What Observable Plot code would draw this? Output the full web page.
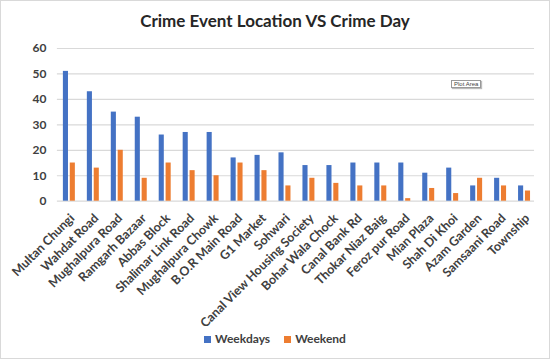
<!DOCTYPE html>
<html><head><meta charset="utf-8">
<script src="https://cdn.jsdelivr.net/npm/d3@7"></script>
<script src="https://cdn.jsdelivr.net/npm/@observablehq/plot@0.6"></script>
<style>
body{margin:0;background:#fff;}
#wrap{position:relative;width:548px;height:357px;border:1px solid #d9d9d9;font-family:Lato,"Open Sans",sans-serif;overflow:hidden;}
#title{position:absolute;top:9px;left:0;width:548px;text-align:center;font-size:17px;font-weight:700;color:#262626;}
#chart{position:absolute;top:34px;left:-1px;}
#legend{position:absolute;top:330px;left:0;width:548px;text-align:center;font-size:12px;font-weight:700;color:#404040;}
#legend span{display:inline-block;margin:0 7px;}
#legend i{display:inline-block;width:7px;height:7px;margin-right:4px;vertical-align:0px;}
#tip{position:absolute;left:450px;top:79px;font-size:6px;color:#444;border:1px solid #999;background:#fff;padding:0 2px;box-shadow:1px 1px 1px #bbb;font-family:"Liberation Sans",sans-serif;}
</style></head><body>
<div id="wrap">
<div id="title">Crime Event Location VS Crime Day</div>
<div id="chart"></div>
<div id="tip">Plot Area</div>
<div id="legend"><span><i style="background:#4472C4"></i>Weekdays</span><span><i style="background:#ED7D31"></i>Weekend</span></div>
</div>
<script>
const locations = ["Multan Chungi","Wahdat Road","Mughalpura Road","Ramgarh Bazaar","Abbas Block","Shalimar Link Road","Mughalpura Chowk","B.O.R Main Road","G1 Market","Sohwari","Canal View Housing Society","Bohar Wala Chock","Canal Bank Rd","Thokar Niaz Baig","Feroz pur Road","Mian Plaza","Shah Di Khoi","Azam Garden","Samsaani Road","Township"];
const weekdays = [51,43,35,33,26,27,27,17,18,19,14,14,15,15,15,11,13,6,9,6];
const weekend = [15,13,20,9,15,12,10,15,12,6,9,7,6,6,1,5,3,9,6,4];
const seriesNames = ["Weekdays","Weekend"];
const yTicks = [0,10,20,30,40,50,60];

const rows = locations.map((loc,i)=>({loc, wd: weekdays[i], we: weekend[i]}));

const plot = Plot.plot({
  width: 550,
  height: 292,
  marginTop: 13,
  marginBottom: 126,
  marginLeft: 57,
  marginRight: 15,
  style: {fontFamily: "Lato, 'Open Sans', sans-serif", fontSize: "12.5px", fontWeight: 700, color: "#404040", background: "transparent"},
  x: {domain: locations, padding: 0.5, range: [51, 543], axis: null},
  y: {domain: [0, 60], ticks: yTicks, label: null, tickSize: 0, tickPadding: 11, tickFormat: d3.format("d")},
  marks: [
    Plot.gridY(yTicks, {stroke: "#d9d9d9", strokeOpacity: 1, strokeWidth: 1.2}),
    Plot.axisY(yTicks, {tickSize: 0, tickPadding: 11, fontSize: 12, label: null}),
    Plot.axisX(locations, {tickSize: 0, tickPadding: 9, tickRotate: -45, dx: 3, dy: 6, fontSize: 12.5, label: null}),
    Plot.barY(rows, {x: "loc", y: "wd", fill: "#4472C4", insetLeft: 0, insetRight: 6.9}),
    Plot.barY(rows, {x: "loc", y: "we", fill: "#ED7D31", insetLeft: 6.9, insetRight: 0})
  ]
});
document.getElementById("chart").appendChild(plot);
</script>
</body></html>
